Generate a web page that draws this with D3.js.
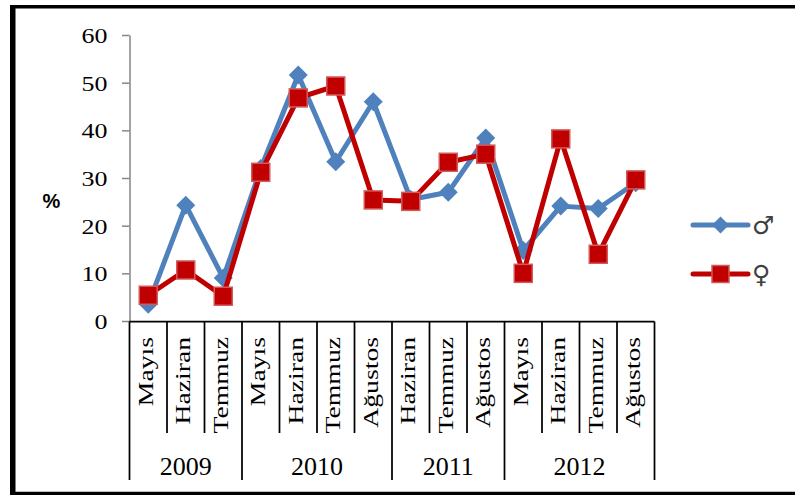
<!DOCTYPE html>
<html>
<head>
<meta charset="utf-8">
<script src="https://cdn.jsdelivr.net/npm/d3@7"></script>
<style>
  html, body { margin: 0; padding: 0; background: #fff; }
  svg { display: block; }
</style>
</head>
<body>
<svg id="chart" width="795" height="495"></svg>
<script>
// Survey months, grouped by year
const months = ["Mayıs", "Haziran", "Temmuz",
                "Mayıs", "Haziran", "Temmuz", "Ağustos",
                "Haziran", "Temmuz", "Ağustos",
                "Mayıs", "Haziran", "Temmuz", "Ağustos"];
const years = ["2009", "2009", "2009",
               "2010", "2010", "2010", "2010",
               "2011", "2011", "2011",
               "2012", "2012", "2012", "2012"];

// Percentages by sex
const male   = [3.5, 24.3, 9.0, 32.0, 51.6, 33.4, 46.0, 25.5, 27.0, 38.4, 14.8, 24.1, 23.6, 29.0];
const female = [5.4, 10.7, 5.2, 31.2, 46.8, 49.3, 25.4, 25.1, 33.3, 35.0, 10.0, 38.2, 14.0, 29.6];

const yTicks = [0, 10, 20, 30, 40, 50, 60];
const seriesNames = ["♂", "♀"];

const BLUE = "#4F81BD";
const RED = "#C00000";
const SERIF = "'Liberation Serif', 'Times New Roman', serif";

const svg = d3.select("#chart");

// Outer frame
const frame = svg.append("g").attr("stroke", "#000");
frame.append("line").attr("x1", 12.75).attr("x2", 12.75).attr("y1", 5).attr("y2", 495).attr("stroke-width", 5.5);
frame.append("line").attr("x1", 10).attr("x2", 795).attr("y1", 6.75).attr("y2", 6.75).attr("stroke-width", 3.5);
frame.append("line").attr("x1", 10).attr("x2", 795).attr("y1", 493.5).attr("y2", 493.5).attr("stroke-width", 3.5);

const x = d3.scaleBand().domain(d3.range(months.length)).range([129.5, 654.5]);
const y = d3.scaleLinear().domain([0, 60]).range([321, 35]);
const cx = i => x(i) + x.bandwidth() / 2;

// Value axis
const yAxis = svg.append("g")
  .attr("transform", "translate(129.5,0)")
  .call(d3.axisLeft(y).tickValues(yTicks).tickSize(7.5).tickSizeOuter(0));
yAxis.select(".domain").attr("stroke", "#868686").attr("stroke-width", 1.5);
yAxis.selectAll(".tick line").attr("stroke", "#868686").attr("stroke-width", 1.5);
yAxis.selectAll(".tick text")
  .attr("x", null)
  .attr("dy", "0.34em")
  .attr("transform", "translate(-22,0) scale(1.18,1)")
  .attr("font-family", SERIF)
  .attr("font-size", 22)
  .attr("fill", "#000")
  .attr("text-anchor", "end");

svg.append("text")
  .attr("x", 51.5).attr("y", 208)
  .attr("text-anchor", "middle")
  .attr("font-family", "'Liberation Sans', Arial, sans-serif")
  .attr("font-weight", "bold")
  .attr("font-size", 20)
  .text("%");

// Category axis: month cells and year groups
const cat = svg.append("g").attr("stroke", "#000").attr("stroke-width", 1.75);
cat.append("line")
  .attr("x1", x.range()[0]).attr("x2", x.range()[1])
  .attr("y1", 321.5).attr("y2", 321.5);

const yearStarts = years.map((yr, i) => i === 0 || years[i - 1] !== yr);
const edges = d3.range(months.length + 1);
cat.selectAll("line.sep")
  .data(edges)
  .join("line")
  .attr("class", "sep")
  .attr("x1", i => i < months.length ? x(i) : x.range()[1])
  .attr("x2", i => i < months.length ? x(i) : x.range()[1])
  .attr("y1", 321.5)
  .attr("y2", i => (i === months.length || yearStarts[i]) ? 480 : 433);

svg.append("g").selectAll("text")
  .data(months)
  .join("text")
  .attr("transform", (d, i) => `translate(${cx(i)},337) rotate(-90) scale(1.35,1)`)
  .attr("dy", "0.23em")
  .attr("text-anchor", "end")
  .attr("font-family", SERIF)
  .attr("font-size", 20.5)
  .text(d => d);

const yearGroups = d3.groups(years.map((yr, i) => ({ yr, i })), d => d.yr);
svg.append("g").selectAll("text")
  .data(yearGroups)
  .join("text")
  .attr("x", d => (x(d[1][0].i) + x(d[1][d[1].length - 1].i) + x.bandwidth()) / 2)
  .attr("y", 475)
  .attr("text-anchor", "middle")
  .attr("font-family", SERIF)
  .attr("font-size", 26)
  .text(d => d[0]);

// Series lines and markers
const line = d3.line().x((d, i) => cx(i)).y(d => y(d));
const diamond = (px, py, r) => `M${px},${py - r}L${px + r},${py}L${px},${py + r}L${px - r},${py}Z`;

svg.append("path")
  .datum(male)
  .attr("d", line)
  .attr("fill", "none").attr("stroke", BLUE).attr("stroke-width", 5)
  .attr("stroke-linejoin", "round").attr("stroke-linecap", "round");
svg.append("g").selectAll("path")
  .data(male)
  .join("path")
  .attr("d", (d, i) => diamond(cx(i), y(d), 9.5))
  .attr("fill", BLUE);

svg.append("path")
  .datum(female)
  .attr("d", line)
  .attr("fill", "none").attr("stroke", RED).attr("stroke-width", 5)
  .attr("stroke-linejoin", "round").attr("stroke-linecap", "round");
svg.append("g").selectAll("rect")
  .data(female)
  .join("rect")
  .attr("x", (d, i) => cx(i) - 9)
  .attr("y", d => y(d) - 9)
  .attr("width", 18).attr("height", 18)
  .attr("fill", RED)
  .attr("stroke", "#D25A5A").attr("stroke-width", 1.5);

// Legend
const legend = svg.append("g");
const legendRows = [
  { name: seriesNames[0], color: BLUE, yPos: 225, marker: "diamond" },
  { name: seriesNames[1], color: RED, yPos: 274, marker: "square" }
];
legendRows.forEach(r => {
  legend.append("line")
    .attr("x1", 693).attr("x2", 748).attr("y1", r.yPos).attr("y2", r.yPos)
    .attr("stroke", r.color).attr("stroke-width", 5).attr("stroke-linecap", "round");
  if (r.marker === "diamond") {
    legend.append("path").attr("d", diamond(720.5, r.yPos, 8.5)).attr("fill", r.color);
  } else {
    legend.append("rect")
      .attr("x", 712).attr("y", r.yPos - 8.5).attr("width", 17).attr("height", 17)
      .attr("fill", r.color).attr("stroke", "#D25A5A").attr("stroke-width", 1.5);
  }
  legend.append("text")
    .attr("x", 752).attr("y", r.yPos + 9)
    .attr("font-family", "'DejaVu Sans', sans-serif")
    .attr("font-size", 25)
    .attr("fill", "#404040")
    .text(r.name);
});
</script>
</body>
</html>
